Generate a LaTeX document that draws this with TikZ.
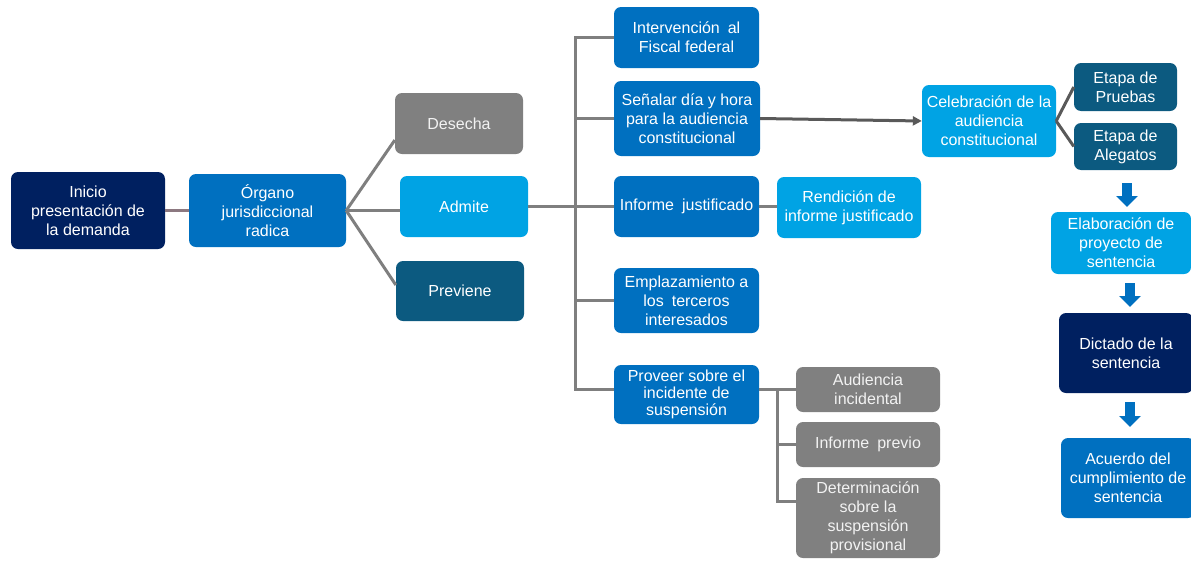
\documentclass[tikz,border=0pt]{standalone}
\usepackage{fontspec}
\setmainfont{Liberation Sans}
\usetikzlibrary{arrows.meta,calc}
\definecolor{cNavy}{HTML}{002060}
\definecolor{cBlue}{HTML}{0070C0}
\definecolor{cLight}{HTML}{00A3E4}
\definecolor{cTeal}{HTML}{0C5A80}
\definecolor{cGray}{HTML}{808080}
\definecolor{cLine}{HTML}{7F7F7F}
\definecolor{cDark}{HTML}{595959}
\definecolor{cLink}{HTML}{8C7880}
\tikzset{
  box/.style={rounded corners=7pt, draw=none, text=white, align=center,
    inner sep=2pt, font=\fontsize{16}{19}\selectfont},
  navybox/.style={box, fill=cNavy},
  bluebox/.style={box, fill=cBlue},
  lightbox/.style={box, fill=cLight},
  tealbox/.style={box, fill=cTeal},
  graybox/.style={box, fill=cGray, text=white!95!black},
  link/.style={draw=cLine, line width=3pt},
  darklink/.style={draw=cDark, line width=3pt},
  downarrow/.style={draw=cBlue, line width=10pt,
    -{Triangle[length=11pt,width=21pt]}},
}
\begin{document}
\begin{tikzpicture}[x=1pt,y=-1pt]
\useasboundingbox (0,0) rectangle (1191,560);

% start of the process
\node[navybox, minimum width=154pt, minimum height=77pt] (ini) at (88,210.5)
  {Inicio\\presentación de\\la demanda};
\node[bluebox, minimum width=157pt, minimum height=73pt] (org) at (267.5,210.5)
  {Órgano\\jurisdiccional\\radica};

% possible outcomes
\node[graybox, minimum width=128pt, minimum height=61pt] (des) at (459,123.5) {Desecha};
\node[lightbox, minimum width=128pt, minimum height=61pt] (adm) at (464,206.5) {Admite};
\node[tealbox, minimum width=128pt, minimum height=60pt] (pre) at (460,291) {Previene};

% steps after admission
\node[bluebox, minimum width=145pt, minimum height=61pt] (int) at (686.5,37.5)
  {Intervención\enspace al\\Fiscal federal};
\node[bluebox, minimum width=146pt, minimum height=75pt] (sen) at (687,118.5)
  {Señalar día y hora\\para la audiencia\\constitucional};
\node[bluebox, minimum width=145pt, minimum height=61pt] (inf) at (686.5,206.5)
  {Informe\enspace justificado};
\node[bluebox, minimum width=145pt, minimum height=65pt] (emp) at (686.5,300.5)
  {Emplazamiento a\\los\enspace terceros\\interesados};
\node[bluebox, minimum width=145pt, minimum height=59pt,
  font=\fontsize{16}{17}\selectfont] (pro) at (686.5,394.5)
  {Proveer sobre el\\incidente de\\suspensión};

\node[lightbox, minimum width=144pt, minimum height=61pt] (ren) at (849,207.5)
  {Rendición de\\informe justificado};

% suspension incident
\node[graybox, minimum width=144pt, minimum height=45pt,
  font=\fontsize{16}{19}\selectfont] (aud) at (868,389.5) {Audiencia\\incidental};
\node[graybox, minimum width=144pt, minimum height=45pt] (ipr) at (868,444.5)
  {Informe\enspace previo};
\node[graybox, minimum width=144pt, minimum height=80pt,
  font=\fontsize{16}{19}\selectfont] (det) at (868,518)
  {Determinación\\sobre la\\suspensión\\provisional};

% constitutional hearing
\node[lightbox, minimum width=134pt, minimum height=72pt] (cel) at (989,121)
  {Celebración de la\\audiencia\\constitucional};
\node[tealbox, minimum width=103pt, minimum height=48pt] (pru) at (1125.5,87)
  {Etapa de\\Pruebas};
\node[tealbox, minimum width=103pt, minimum height=47pt] (ale) at (1125.5,146.5)
  {Etapa de\\Alegatos};

% final sequence
\node[lightbox, minimum width=140pt, minimum height=62pt] (ela) at (1121,243)
  {Elaboración de\\proyecto de\\sentencia};
\node[navybox, minimum width=134pt, minimum height=80pt] (dic) at (1126,353)
  {Dictado de la\\sentencia};
\node[bluebox, minimum width=134pt, minimum height=80pt] (acu) at (1128,478)
  {Acuerdo del\\cumplimiento de\\sentencia};

% connectors
\draw[draw=cLink, line width=3pt] (ini.east) -- (org.west);
\draw[link] (org.east) -- ($(des.north west)!0.77!(des.south west)$);
\draw[link] (org.east) -- (org.east -| adm.west);
\draw[link] (org.east) -- ($(pre.north west)!0.4!(pre.south west)$);

\coordinate (bus) at (575,0);
\draw[link] (adm.east) -- (adm.east -| bus);
\draw[link] (int.west) -- (int.west -| bus) -- (aud.west -| bus) -- (aud.west -| pro.west);
\draw[link] (sen.west) -- (sen.west -| bus);
\draw[link] (inf.west) -- (inf.west -| bus);
\draw[link] (emp.west) -- (emp.west -| bus);

\draw[link] (inf.east) -- (inf.east -| ren.west);

\coordinate (sub) at (777,0);
\coordinate (detin) at ($(det.north west)!0.3!(det.south west)$);
\draw[link] (aud.west -| pro.east) -- (aud.west);
\draw[link] (aud.west -| sub) -- (detin -| sub) -- (detin);
\draw[link] (ipr.west -| sub) -- (ipr.west);

\draw[darklink, -{Triangle[length=9pt,width=9pt]}] (sen.east) -- (cel.west);
\draw[darklink] (cel.east) -- (pru.west);
\draw[darklink] (cel.east) -- (ale.west);

% block arrows between final stages
\coordinate (a1s) at (1127,183);
\coordinate (a1e) at (1127,207);
\coordinate (a2s) at (1130,283);
\coordinate (a2e) at (1130,307);
\coordinate (a3s) at (1130,402);
\coordinate (a3e) at (1130,427);
\draw[downarrow] (a1s) -- (a1e);
\draw[downarrow] (a2s) -- (a2e);
\draw[downarrow] (a3s) -- (a3e);
\end{tikzpicture}
\end{document}
